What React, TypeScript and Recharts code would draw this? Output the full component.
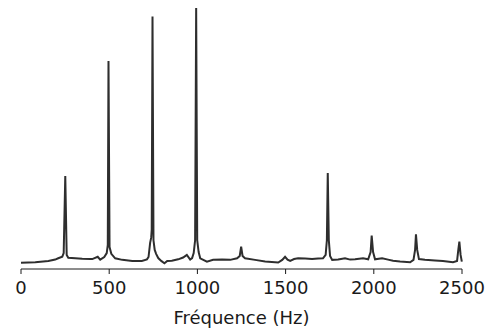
import { LineChart, Line, XAxis, YAxis } from 'recharts';

// spectrum: frequency (Hz) and relative amplitude (0-100)
const freqHz = [
  0, 81, 155, 194, 211, 234, 242, 251, 259, 268, 308, 347, 393, 404, 435, 449, 472, 486, 492, 496,
  502, 512, 534, 574, 631, 685, 714, 723, 732, 738, 741, 745.5, 751, 758, 766, 778, 795, 813, 829,
  855, 891, 919, 940, 959, 970, 979, 987, 993, 999, 1007, 1016, 1054, 1089, 1140, 1186, 1225, 1240,
  1248, 1256, 1270, 1327, 1384, 1458, 1481, 1497, 1511, 1526, 1548, 1571, 1611, 1650, 1684, 1712,
  1727, 1734, 1739, 1745, 1752, 1764, 1798, 1837, 1866, 1894, 1939, 1968, 1982, 1988, 1996, 2007,
  2047, 2081, 2109, 2149, 2206, 2225, 2234, 2239, 2246, 2256, 2290, 2347, 2392, 2449, 2472, 2479,
  2485, 2492, 2499,
];
const amplitude = [
  2.4, 2.6, 3.1, 3.6, 4.1, 4.7, 6.1, 35.6, 5.4, 4.3, 4.1, 3.9, 3.8, 3.8, 4.7, 3.6, 4.6, 6.1, 9.2, 79.7,
  8.4, 5.8, 4.1, 3.5, 3.1, 3.1, 3.7, 4.6, 10, 12, 15, 96.7, 11, 7.3, 5.8, 4.2, 3.1, 2.2, 3.1,
  3.2, 3.7, 4.4, 5.4, 3.6, 4.2, 6.1, 11, 100, 11, 6.5, 4.1, 2.8, 3.5, 3.6, 3.5, 4.1, 5,
  8.6, 5, 4.1, 3.5, 2.9, 2.5, 3.5, 4.7, 3.6, 3.1, 3.8, 4.1, 4, 3.8, 4, 4.1,
  5.4, 11, 36.8, 11, 5, 3.5, 3.6, 4.1, 3.6, 3.7, 4.1, 3.7, 6.5, 12.8, 6.5, 3.7,
  4.1, 3.6, 3.2, 2.9, 2.6, 3.5, 7.3, 13.3, 7.3, 3.8, 3.5, 3.3, 3.1, 2.6, 3.1, 7.3,
  10.5, 5.4, 2.8,
];
const xTicks = [0, 500, 1000, 1500, 2000, 2500];

const data = freqHz.map((f, i) => ({ f, a: amplitude[i] }));

export default function App() {
  return (
    <div style={{ position: 'absolute', left: 0, top: 0, background: '#fff' }}>
      <LineChart
        width={496}
        height={330}
        data={data}
        margin={{ top: 8, right: 34, left: 21, bottom: 0 }}
        style={{ fontFamily: 'DejaVu Sans' }}
      >
        <XAxis
          dataKey="f"
          type="number"
          domain={[0, 2500]}
          ticks={xTicks}
          height={61}
          tickSize={5}
          tickMargin={7}
          stroke="#1a1a1a"
          tick={{ fontSize: 18, fill: '#1a1a1a' }}
          label={{ value: 'Fréquence (Hz)', position: 'insideBottom', offset: 6, fontSize: 18, fill: '#1a1a1a' }}
        />
        <YAxis hide domain={[0, 100]} />
        <Line
          type="linear"
          dataKey="a"
          stroke="#2e2e2e"
          strokeWidth={2}
          dot={false}
          isAnimationActive={false}
        />
      </LineChart>
    </div>
  );
}
